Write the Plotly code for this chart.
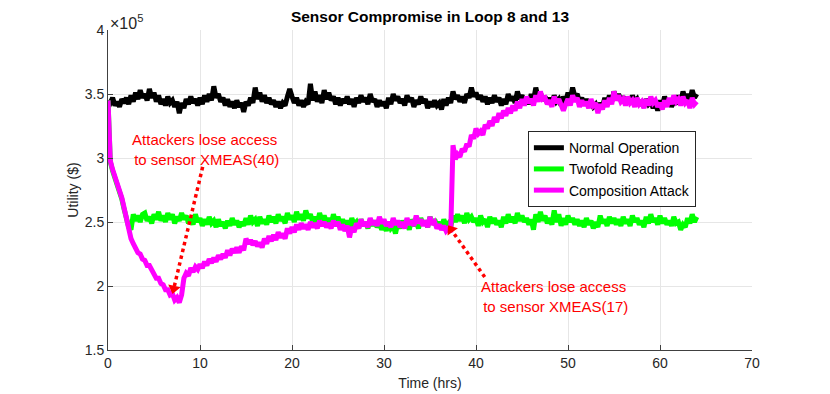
"""Sensor compromise in loop 8 and 13: utility over time."""

import numpy as np
import plotly.graph_objects as go

# time axis in hours (0 .. 64, sampled every 0.25 h)
time_hrs = np.arange(0, 64.001, 0.25)

# utility values, in units of 1e5 $
normal_operation = [
    3.45, 3.43, 3.47, 3.41, 3.44, 3.40, 3.46, 3.43,
    3.47, 3.42, 3.49, 3.44, 3.51, 3.46, 3.53, 3.47,
    3.50, 3.45, 3.54, 3.47, 3.51, 3.44, 3.49, 3.42,
    3.46, 3.41, 3.48, 3.43, 3.45, 3.40, 3.44, 3.35,
    3.43, 3.39, 3.46, 3.42, 3.48, 3.43, 3.46, 3.41,
    3.47, 3.42, 3.49, 3.44, 3.50, 3.45, 3.56, 3.47,
    3.50, 3.44, 3.47, 3.41, 3.46, 3.40, 3.44, 3.39,
    3.45, 3.40, 3.43, 3.36, 3.44, 3.41, 3.47, 3.43,
    3.55, 3.46, 3.51, 3.44, 3.49, 3.43, 3.47, 3.42,
    3.45, 3.40, 3.44, 3.39, 3.43, 3.41, 3.48, 3.54,
    3.48, 3.43, 3.47, 3.41, 3.45, 3.40, 3.44, 3.42,
    3.58, 3.45, 3.52, 3.44, 3.49, 3.43, 3.53, 3.46,
    3.51, 3.45, 3.48, 3.42, 3.47, 3.41, 3.46, 3.43,
    3.48, 3.42, 3.46, 3.40, 3.47, 3.43, 3.49, 3.44,
    3.47, 3.42, 3.50, 3.44, 3.46, 3.40, 3.45, 3.41,
    3.44, 3.39, 3.47, 3.42, 3.50, 3.45, 3.48, 3.43,
    3.46, 3.41, 3.49, 3.44, 3.47, 3.40, 3.45, 3.42,
    3.48, 3.43, 3.46, 3.39, 3.44, 3.40, 3.45, 3.41,
    3.43, 3.38, 3.46, 3.41, 3.47, 3.43, 3.52, 3.46,
    3.49, 3.44, 3.48, 3.43, 3.50, 3.47, 3.55, 3.48,
    3.51, 3.46, 3.49, 3.44, 3.48, 3.42, 3.47, 3.43,
    3.49, 3.44, 3.47, 3.41, 3.46, 3.42, 3.50, 3.45,
    3.48, 3.43, 3.52, 3.46, 3.49, 3.44, 3.47, 3.42,
    3.50, 3.45, 3.55, 3.47, 3.51, 3.45, 3.48, 3.43,
    3.47, 3.42, 3.49, 3.44, 3.46, 3.41, 3.48, 3.44,
    3.51, 3.46, 3.55, 3.48, 3.50, 3.44, 3.47, 3.42,
    3.46, 3.41, 3.44, 3.40, 3.42, 3.37, 3.43, 3.40,
    3.47, 3.42, 3.49, 3.44, 3.52, 3.46, 3.50, 3.45,
    3.48, 3.43, 3.47, 3.42, 3.49, 3.44, 3.46, 3.41,
    3.45, 3.40, 3.46, 3.42, 3.44, 3.39, 3.43, 3.37,
    3.45, 3.41, 3.48, 3.43, 3.46, 3.40, 3.44, 3.42,
    3.49, 3.44, 3.52, 3.46, 3.50, 3.45, 3.53, 3.47,
    3.50,
]

twofold_reading = [
    3.45, 2.97, 2.90, 2.85, 2.80, 2.75, 2.68, 2.60,
    2.52, 2.46, 2.44, 2.56, 2.51, 2.55, 2.50, 2.56,
    2.57, 2.51, 2.54, 2.49, 2.56, 2.52, 2.58, 2.51,
    2.55, 2.50, 2.57, 2.52, 2.56, 2.49, 2.54, 2.51,
    2.57, 2.52, 2.55, 2.49, 2.53, 2.48, 2.56, 2.50,
    2.53, 2.47, 2.52, 2.48, 2.54, 2.49, 2.51, 2.46,
    2.52, 2.47, 2.50, 2.45, 2.51, 2.47, 2.53, 2.48,
    2.51, 2.46, 2.50, 2.47, 2.53, 2.48, 2.55, 2.50,
    2.52, 2.47, 2.54, 2.49, 2.52, 2.48, 2.55, 2.50,
    2.54, 2.49, 2.56, 2.51, 2.54, 2.49, 2.57, 2.52,
    2.55, 2.50, 2.58, 2.52, 2.56, 2.51, 2.59, 2.53,
    2.56, 2.50, 2.54, 2.49, 2.57, 2.51, 2.55, 2.50,
    2.53, 2.48, 2.56, 2.50, 2.54, 2.49, 2.52, 2.47,
    2.51, 2.46, 2.53, 2.48, 2.50, 2.45, 2.52, 2.47,
    2.50, 2.45, 2.52, 2.47, 2.51, 2.46, 2.49, 2.44,
    2.48, 2.43, 2.50, 2.45, 2.47, 2.41, 2.49, 2.45,
    2.51, 2.46, 2.49, 2.44, 2.52, 2.47, 2.50, 2.45,
    2.53, 2.48, 2.51, 2.46, 2.54, 2.49, 2.52, 2.47,
    2.50, 2.45, 2.52, 2.47, 2.49, 2.46, 2.55, 2.50,
    2.56, 2.51, 2.55, 2.49, 2.57, 2.52, 2.54, 2.50,
    2.53, 2.47, 2.55, 2.50, 2.52, 2.46, 2.54, 2.49,
    2.53, 2.48, 2.51, 2.46, 2.54, 2.49, 2.56, 2.50,
    2.54, 2.49, 2.57, 2.51, 2.55, 2.50, 2.53, 2.48,
    2.52, 2.44, 2.56, 2.50, 2.58, 2.51, 2.55, 2.49,
    2.53, 2.48, 2.59, 2.50, 2.56, 2.47, 2.53, 2.48,
    2.55, 2.50, 2.53, 2.48, 2.52, 2.47, 2.51, 2.46,
    2.53, 2.48, 2.51, 2.45, 2.50, 2.46, 2.55, 2.49,
    2.52, 2.47, 2.54, 2.49, 2.53, 2.48, 2.52, 2.47,
    2.54, 2.49, 2.52, 2.47, 2.55, 2.50, 2.53, 2.48,
    2.51, 2.46, 2.54, 2.49, 2.56, 2.50, 2.53, 2.48,
    2.55, 2.49, 2.53, 2.48, 2.51, 2.47, 2.54, 2.49,
    2.50, 2.44, 2.48, 2.46, 2.53, 2.49, 2.56, 2.50,
    2.54,
]

composition_attack = [
    3.45, 2.98, 2.91, 2.86, 2.81, 2.76, 2.69, 2.61,
    2.52, 2.42, 2.37, 2.33, 2.30, 2.26, 2.25, 2.21,
    2.20, 2.16, 2.16, 2.12, 2.10, 2.06, 2.06, 2.02,
    2.01, 1.97, 1.97, 1.93, 1.94, 1.89, 1.91, 1.87,
    1.93, 2.06, 2.10, 2.08, 2.14, 2.11, 2.15, 2.13,
    2.17, 2.14, 2.19, 2.16, 2.21, 2.18, 2.22, 2.19,
    2.24, 2.21, 2.25, 2.22, 2.28, 2.24, 2.29, 2.26,
    2.30, 2.26, 2.31, 2.28, 2.37, 2.33, 2.36, 2.32,
    2.35, 2.31, 2.34, 2.30, 2.37, 2.33, 2.39, 2.35,
    2.40, 2.36, 2.42, 2.38, 2.41, 2.37, 2.45, 2.41,
    2.46, 2.42, 2.48, 2.44, 2.49, 2.45, 2.48, 2.44,
    2.50, 2.46, 2.49, 2.45, 2.51, 2.47, 2.50, 2.46,
    2.49, 2.45, 2.51, 2.47, 2.50, 2.44, 2.48, 2.43,
    2.47, 2.38, 2.46, 2.42, 2.49, 2.45, 2.52, 2.47,
    2.50, 2.46, 2.53, 2.48, 2.51, 2.47, 2.54, 2.49,
    2.52, 2.47, 2.50, 2.46, 2.53, 2.48, 2.51, 2.46,
    2.50, 2.45, 2.53, 2.48, 2.51, 2.47, 2.55, 2.49,
    2.52, 2.47, 2.51, 2.46, 2.54, 2.48, 2.50, 2.45,
    2.48, 2.44, 2.47, 2.43, 2.45, 2.42, 3.10, 2.99,
    3.03, 3.01, 3.07, 3.05, 3.11, 3.09, 3.18, 3.15,
    3.23, 3.19, 3.21, 3.18, 3.26, 3.23, 3.29, 3.25,
    3.32, 3.28, 3.35, 3.31, 3.37, 3.33, 3.39, 3.35,
    3.41, 3.37, 3.44, 3.39, 3.46, 3.41, 3.48, 3.43,
    3.46, 3.41, 3.49, 3.44, 3.52, 3.46, 3.47, 3.42,
    3.45, 3.40, 3.48, 3.43, 3.46, 3.41, 3.37, 3.42,
    3.46, 3.41, 3.49, 3.44, 3.47, 3.40, 3.45, 3.41,
    3.44, 3.39, 3.46, 3.41, 3.43, 3.35, 3.42, 3.38,
    3.45, 3.40, 3.47, 3.42, 3.52, 3.45, 3.49, 3.44,
    3.46, 3.41, 3.48, 3.43, 3.45, 3.40, 3.47, 3.42,
    3.44, 3.39, 3.46, 3.41, 3.48, 3.43, 3.45, 3.40,
    3.43, 3.38, 3.45, 3.40, 3.47, 3.42, 3.49, 3.44,
    3.46, 3.41, 3.48, 3.43, 3.45, 3.39, 3.47, 3.42,
    3.44,
]

series = [
    ("Normal Operation", normal_operation, "#000000"),
    ("Twofold Reading", twofold_reading, "#00ff00"),
    ("Composition Attack", composition_attack, "#ff00ff"),
]

# arrow endpoints (tail -> tip) in data units, and label positions
arrow_40 = dict(x0=10.29, y0=2.93, x1=7.15, y1=1.98)
arrow_17 = dict(x0=40.95, y0=2.07, x1=37.30, y1=2.44)
label_40 = (10.5, 3.07, "Attackers lose access<br> to sensor XMEAS(40)")
label_17 = (48.4, 1.92, "Attackers lose access<br> to sensor XMEAS(17)")

FONT = "Liberation Sans, Arial, Helvetica, sans-serif"
RED = "#ff0000"
PX_PER_X = 644 / 70   # plot width / x span
PX_PER_Y = 320 / 2.5  # plot height / y span

fig = go.Figure()
for name, values, color in series:
    fig.add_trace(
        go.Scatter(
            x=time_hrs,
            y=values,
            mode="lines",
            name=name,
            line=dict(color=color, width=5),
        )
    )

# dotted arrows with a rotated triangle as head
for arr in (arrow_40, arrow_17):
    fig.add_shape(
        type="line",
        x0=arr["x0"], y0=arr["y0"], x1=arr["x1"], y1=arr["y1"],
        line=dict(color=RED, width=3.5, dash="dot"),
        layer="above",
    )
    dx = (arr["x1"] - arr["x0"]) * PX_PER_X
    dy = -(arr["y1"] - arr["y0"]) * PX_PER_Y  # screen y grows downward
    angle = float(np.degrees(np.arctan2(dx, -dy)))
    fig.add_trace(
        go.Scatter(
            x=[arr["x1"]], y=[arr["y1"]], mode="markers",
            marker=dict(symbol="triangle-up", size=11, color=RED, angle=angle,
                        line=dict(width=0)),
            showlegend=False, hoverinfo="skip",
        )
    )

for lx, ly, txt in (label_40, label_17):
    fig.add_annotation(
        x=lx, y=ly, text=txt, showarrow=False, align="center",
        font=dict(family=FONT, size=15, color=RED),
    )

fig.add_annotation(
    xref="paper", yref="paper", x=0, y=1, xanchor="left", yanchor="bottom",
    text="×10<sup>5</sup>", showarrow=False,
    font=dict(family=FONT, size=16, color="#262626"), yshift=-4,
)

axis_common = dict(
    showgrid=True,
    gridcolor="#e6e6e6",
    gridwidth=1,
    showline=True,
    linecolor="#404040",
    linewidth=1,
    ticks="inside",
    ticklen=5,
    tickcolor="#404040",
    zeroline=False,
    automargin=False,
    tickfont=dict(family=FONT, size=14, color="#262626"),
)

# the page body adds an 8 px offset, so the figure is sized 822 x 386
fig.update_layout(
    width=822,
    height=386,
    paper_bgcolor="white",
    plot_bgcolor="white",
    margin=dict(l=100, r=78, t=22, b=44),
    font=dict(family=FONT, color="#262626"),
    title=dict(
        text="<b>Sensor Compromise in Loop 8 and 13</b>",
        x=0.5, xref="paper", xanchor="center", y=0.978, yanchor="middle",
        font=dict(family=FONT, size=15.5, color="#000000"),
    ),
    xaxis=dict(
        range=[0, 70], dtick=10,
        title=dict(text="Time (hrs)", font=dict(family=FONT, size=14), standoff=8),
        **axis_common,
    ),
    yaxis=dict(
        range=[1.5, 4], dtick=0.5,
        title=dict(text="Utility ($)", font=dict(family=FONT, size=14), standoff=2),
        **axis_common,
    ),
    legend=dict(
        x=0.652, y=0.684, xanchor="left", yanchor="top",
        bgcolor="white", bordercolor="#262626", borderwidth=1,
        font=dict(family=FONT, size=14, color="#000000"),
        tracegroupgap=0, itemwidth=30,
    ),
    showlegend=True,
)

fig.write_html("out.html")
